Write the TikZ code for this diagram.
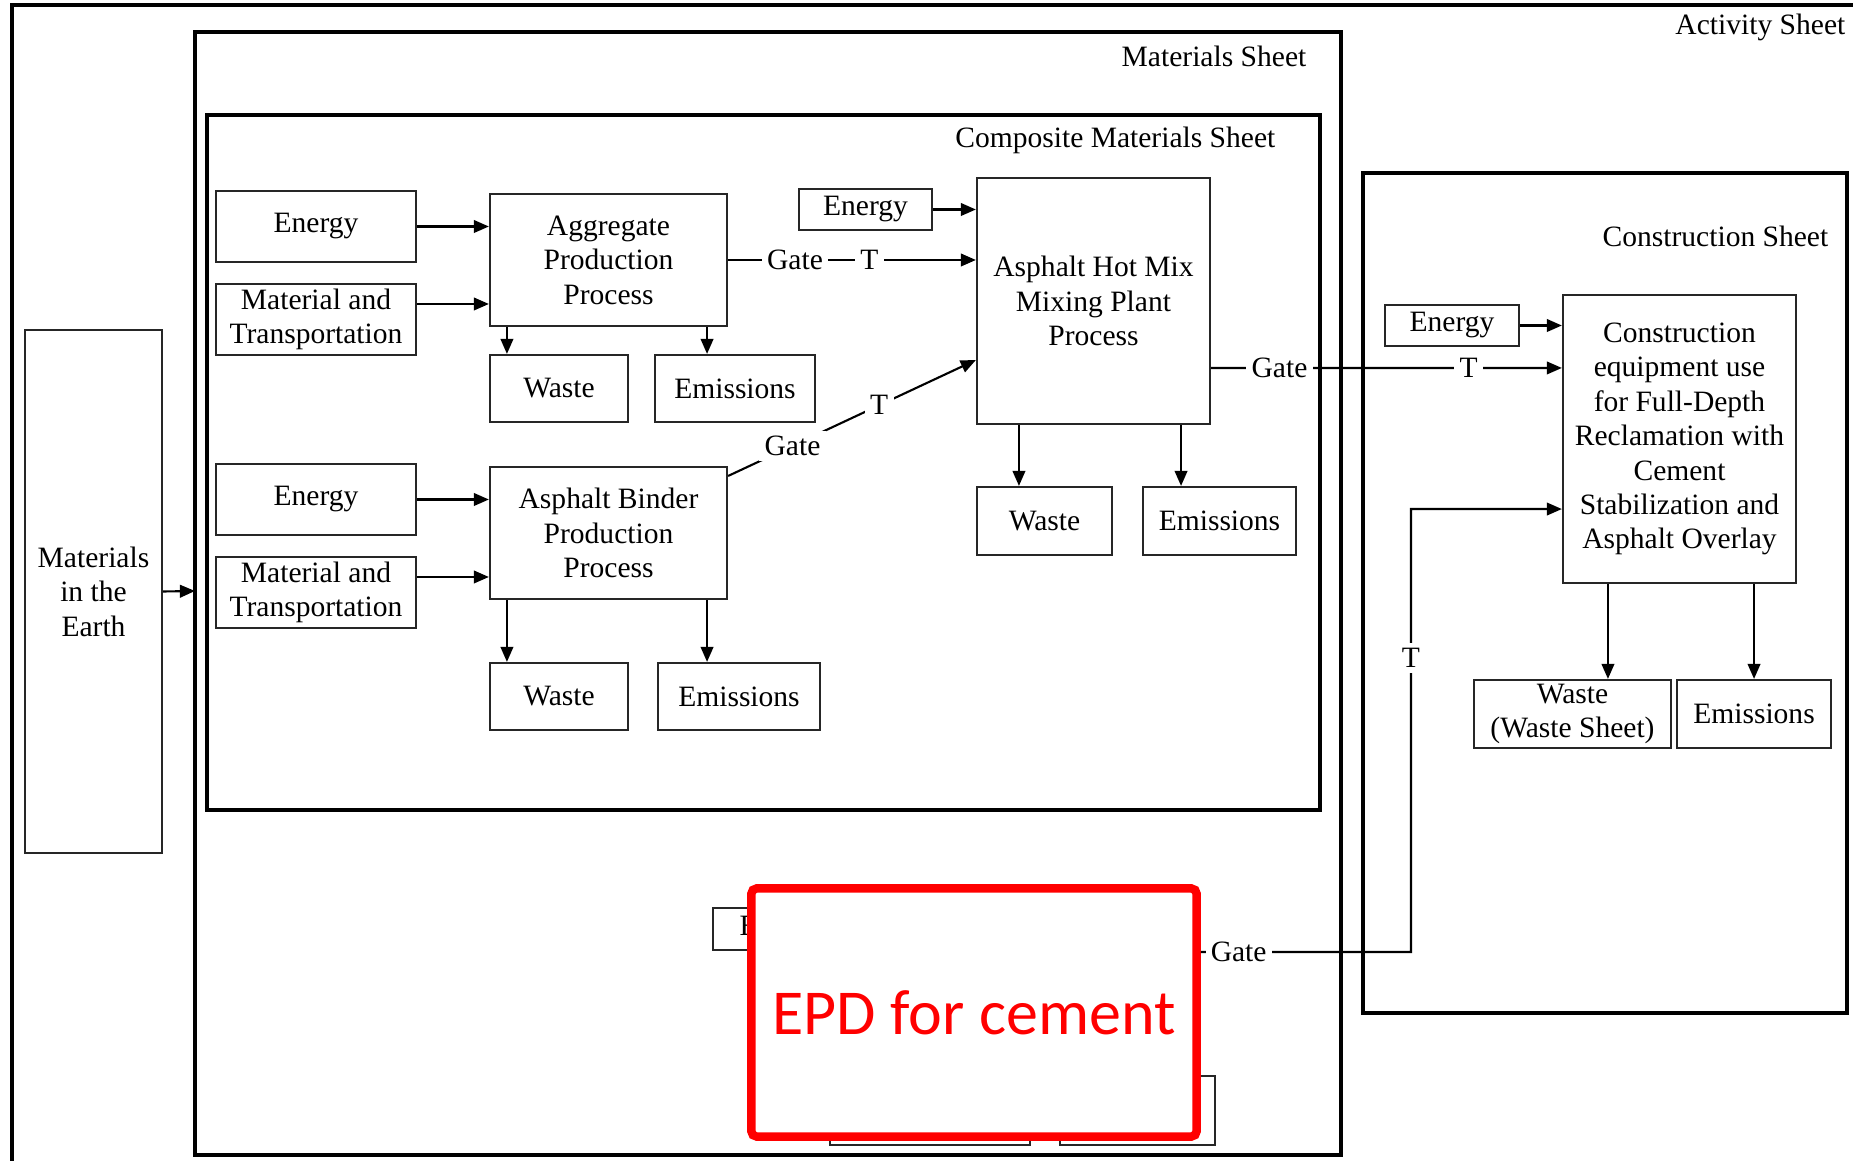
\documentclass[tikz,border=0pt]{standalone}
\usepackage{fontspec}
\setmainfont{Liberation Serif}
\newfontfamily\epdfont{Carlito}
\usetikzlibrary{positioning, arrows.meta, calc}

\tikzset{
  sheet/.style={draw=black, line width=1.1pt},
  box/.style={draw=black!85, line width=0.6pt, fill=white, align=center, inner sep=0pt,
              font=\fontsize{8.4}{9.8}\selectfont},
  arr/.style={-{Triangle[length=4.3pt,width=3.6pt]}, line width=0.6pt},
  link/.style={line width=0.6pt},
  tag/.style={fill=white, inner sep=1.5pt, font=\fontsize{8.4}{9.8}\selectfont},
  sheetlabel/.style={anchor=east, inner sep=0pt, font=\fontsize{8.4}{9.8}\selectfont}
}

\begin{document}
\begin{tikzpicture}[x=0.01cm, y=-0.01cm]
  \useasboundingbox (0,0) rectangle (1853,1161);
  \clip (0,0) rectangle (1853,1161);

  % sheets
  \draw[sheet] (12,5) rectangle (1900,1200);
  \draw[sheet] (195,32) rectangle (1341,1155);
  \draw[sheet] (207,115) rectangle (1320,810);
  \draw[sheet] (1363,173) rectangle (1847,1013);
  \node[sheetlabel] (actlbl) at (1846,27) {Activity Sheet};
  \node[sheetlabel] (matlbl) at (1307,56) {Materials Sheet};
  \node[sheetlabel] (complbl) at (1276,140) {Composite Materials Sheet};
  \node[sheetlabel] (conlbl) at (1829,236) {Construction Sheet};

  % materials in the earth
  \node[box, minimum width=1.37cm, minimum height=5.23cm] (earth) at (93.5,591.5) {Materials\\in the\\Earth};
  \coordinate (matW) at (195,591);
  \draw[arr] (earth.east) -- (matW);

  % aggregate
  \node[box, minimum width=2cm, minimum height=0.71cm] (en1) at (316,226.5) {Energy};
  \node[box, minimum width=2cm, minimum height=0.71cm] (mt1) at (316,319.5) {Material and\\Transportation};
  \node[box, minimum width=2.37cm, minimum height=1.32cm] (agg) at (608.5,260) {Aggregate\\Production\\Process};
  \node[box, minimum width=1.38cm, minimum height=0.67cm] (waste1) at (559,388.5) {Waste};
  \node[box, minimum width=1.6cm, minimum height=0.67cm] (emis1) at (735,388.5) {Emissions};
  \draw[arr] (en1.east) -- (en1.east -| agg.west);
  \draw[arr] ([yshift=0.155cm]mt1.east) -- ([yshift=0.155cm]mt1.east -| agg.west);
  \draw[arr] ([xshift=-1.015cm]agg.south) -- ([xshift=-1.015cm]agg.south |- waste1.north);
  \draw[arr] ([xshift=0.985cm]agg.south) -- ([xshift=0.985cm]agg.south |- emis1.north);

  % asphalt binder
  \node[box, minimum width=2cm, minimum height=0.71cm] (en2) at (316,499.5) {Energy};
  \node[box, minimum width=2cm, minimum height=0.71cm] (mt2) at (316,592.5) {Material and\\Transportation};
  \node[box, minimum width=2.37cm, minimum height=1.32cm] (bind) at (608.5,533) {Asphalt Binder\\Production\\Process};
  \node[box, minimum width=1.38cm, minimum height=0.67cm] (waste2) at (559,696.5) {Waste};
  \node[box, minimum width=1.62cm, minimum height=0.67cm] (emis2) at (739,696.5) {Emissions};
  \draw[arr] (en2.east) -- (en2.east -| bind.west);
  \draw[arr] ([yshift=0.155cm]mt2.east) -- ([yshift=0.155cm]mt2.east -| bind.west);
  \draw[arr] ([xshift=-1.015cm]bind.south) -- ([xshift=-1.015cm]bind.south |- waste2.north);
  \draw[arr] ([xshift=0.985cm]bind.south) -- ([xshift=0.985cm]bind.south |- emis2.north);

  % hot mix plant
  \node[box, minimum width=1.33cm, minimum height=0.41cm] (en3) at (865.5,209.5) {Energy};
  \node[box, minimum width=2.33cm, minimum height=2.46cm] (hotmix) at (1093.5,301) {Asphalt Hot Mix\\Mixing Plant\\Process};
  \node[box, minimum width=1.35cm, minimum height=0.68cm] (waste3) at (1044.5,521) {Waste};
  \node[box, minimum width=1.53cm, minimum height=0.68cm] (emis3) at (1219.5,521) {Emissions};
  \draw[arr] (en3.east) -- (en3.east -| hotmix.west);
  \draw[arr] (agg.east) -- node[tag, pos=0.27] {Gate} node[tag, pos=0.57] {T} (agg.east -| hotmix.west);
  \draw[arr] ([yshift=0.57cm]bind.east) -- node[tag, pos=0.26] {Gate} node[tag, pos=0.61] {T} ([yshift=-0.59cm]hotmix.west);
  \draw[arr] ([xshift=-0.745cm]hotmix.south) -- ([xshift=-0.745cm]hotmix.south |- waste3.north);
  \draw[arr] ([xshift=0.875cm]hotmix.south) -- ([xshift=0.875cm]hotmix.south |- emis3.north);

  % construction
  \node[box, minimum width=1.34cm, minimum height=0.41cm] (en4) at (1452,325.5) {Energy};
  \node[box, minimum width=2.33cm, minimum height=2.88cm] (constr) at (1679.5,439) {Construction\\equipment use\\for Full-Depth\\Reclamation with\\Cement\\Stabilization and\\Asphalt Overlay};
  \node[box, minimum width=1.97cm, minimum height=0.68cm] (waste4) at (1572.5,714) {Waste\\(Waste Sheet)};
  \node[box, minimum width=1.54cm, minimum height=0.68cm] (emis4) at (1754,714) {Emissions};
  \draw[arr] (en4.east) -- (en4.east -| constr.west);
  \draw[arr] ([yshift=-0.67cm]hotmix.east) -- node[tag, pos=0.195] {Gate} node[tag, pos=0.734] {T} ([yshift=0.71cm]constr.west);
  \draw[arr] ([xshift=-0.715cm]constr.south) -- ([xshift=-0.715cm]constr.south |- waste4.north);
  \draw[arr] ([xshift=0.745cm]constr.south) -- ([xshift=0.745cm]constr.south |- emis4.north);

  % cement (covered)
  \node[box, minimum width=1.38cm, minimum height=0.42cm] (en5) at (782,929) {Energy};
  \node[box, minimum width=2cm, minimum height=0.7cm] (waste5) at (930,1110) {Waste};
  \node[box, minimum width=1.55cm, minimum height=0.69cm] (emis5) at (1137.5,1110.5) {Emissions};
  \node[draw=red, line width=2.4pt, rounded corners=1.5pt, fill=white, text=red,
        minimum width=4.45cm, minimum height=2.48cm,
        font=\epdfont\fontsize{18.2}{20}\selectfont] (epd) at (974,1012.5) {EPD for cement};
  \coordinate (tturn) at (1411,952);
  \draw[arr] ([yshift=0.605cm]epd.east) -- node[tag, pos=0.18] {Gate} (tturn)
    |- node[tag, pos=0.332] {T} ([yshift=-0.7cm]constr.west);
\end{tikzpicture}
\end{document}
